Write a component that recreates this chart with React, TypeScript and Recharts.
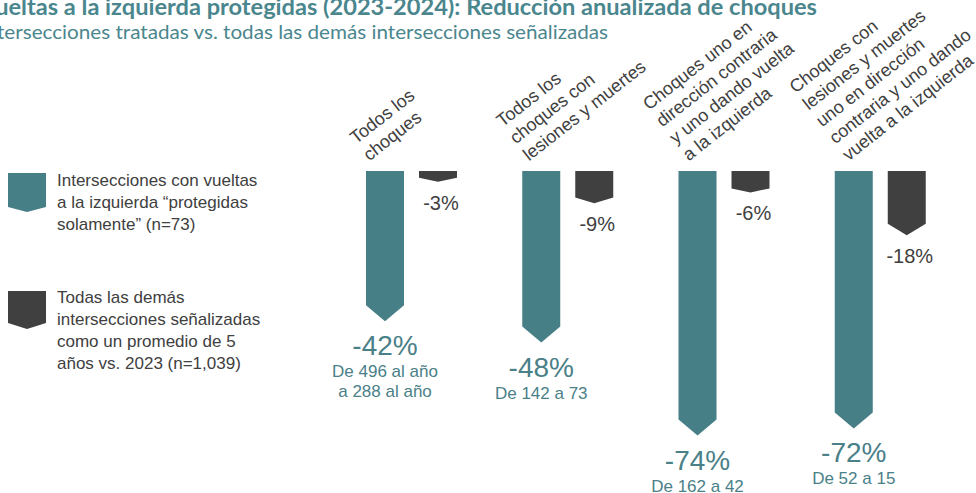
import React from 'react';
import { BarChart, Bar, XAxis, YAxis, LabelList, Legend } from 'recharts';

const categories = [
  'Todos los\nchoques',
  'Todos los\nchoques con\nlesiones y muertes',
  'Choques uno en\ndirección contraria\ny uno dando vuelta\na la izquierda',
  'Choques con\nlesiones y muertes\nuno en dirección\ncontraria y uno dando\nvuelta a la izquierda',
];
const protectedChange = [-42, -48, -74, -72];
const otherChange = [-3, -9, -6, -18];
const protectedDetail = ['De 496 al año\na 288 al año', 'De 142 a 73', 'De 162 a 42', 'De 52 a 15'];
const seriesNames = [
  'Intersecciones con vueltas\na la izquierda “protegidas\nsolamente” (n=73)',
  'Todas las demás\nintersecciones señalizadas\ncomo un promedio de 5\naños vs. 2023 (n=1,039)',
];
const titleText = 'Vueltas a la izquierda protegidas (2023-2024): Reducción anualizada de choques';
const subtitleText = 'Intersecciones tratadas vs. todas las demás intersecciones señalizadas';
const yDomain: [number, number] = [-80, 0];

const data = categories.map((c, i) => ({
  category: c,
  protegidas: protectedChange[i],
  demas: otherChange[i],
  detalle: protectedDetail[i],
}));

const TEAL = '#477F87';
const TEAL_TEXT = '#4A8088';
const DARK = '#404040';
const TEXT_GRAY = '#404040';
const FONT = '"Liberation Sans", Arial, sans-serif';

const Chevron = (props: any) => {
  const { x, y, width, height, fill } = props;
  const top = Math.min(y, y + height);
  const bottom = Math.max(y, y + height);
  const h = bottom - top;
  const d = Math.min(16, Math.max(4, h * 0.18));
  const pts = `${x},${top} ${x + width},${top} ${x + width},${bottom - d} ${x + width / 2},${bottom} ${x},${bottom - d}`;
  return <polygon points={pts} fill={fill} />;
};

const CategoryTick = (props: any) => {
  const { x, y, payload } = props;
  const lines = String(payload.value).split('\n');
  const n = lines.length;
  const dx = -42 + 3.5 * (n - 2);
  return (
    <g transform={`translate(${x + dx},${y - 9.5}) rotate(-38)`}>
      <text fontFamily={FONT} fontSize={18} fill={TEXT_GRAY} textAnchor="start">
        {lines.map((l, i) => (
          <tspan key={i} x={0} y={(i - (n - 1)) * 21.5}>
            {l}
          </tspan>
        ))}
      </text>
    </g>
  );
};

const barBottom = (p: any) => Math.max(Number(p.y), Number(p.y) + Number(p.height));

const TealPct = (p: any) => (
  <text x={p.x + p.width / 2} y={barBottom(p) + 34} textAnchor="middle" fontFamily={FONT} fontSize={28} fill={TEAL_TEXT}>
    {`${p.value}%`}
  </text>
);

const TealDetail = (p: any) => {
  const lines = String(p.value).split('\n');
  const b = barBottom(p);
  return (
    <text textAnchor="middle" fontFamily={FONT} fontSize={17} fill={TEAL_TEXT}>
      {lines.map((l, i) => (
        <tspan key={i} x={p.x + p.width / 2} y={b + 56 + i * 20}>
          {l}
        </tspan>
      ))}
    </text>
  );
};

const DarkPct = (p: any) => (
  <text x={p.x + p.width / 2 + 3} y={barBottom(p) + 28} textAnchor="middle" fontFamily={FONT} fontSize={20} fill={DARK}>
    {`${p.value}%`}
  </text>
);

const LegendIcon = ({ color, body, tip }: { color: string; body: number; tip: number }) => (
  <svg width={38} height={body + tip} style={{ display: 'block' }}>
    <polygon points={`0,0 38,0 38,${body} 19,${body + tip} 0,${body}`} fill={color} />
  </svg>
);

const renderLegend = (props: any) => {
  const payload = props.payload || [];
  return (
    <div style={{ position: 'relative', width: 330, fontFamily: FONT, fontSize: 17, lineHeight: '22px', color: TEXT_GRAY }}>
      {payload.map((entry: any, i: number) => (
        <div key={i} style={{ position: 'relative', marginTop: i === 0 ? 0 : 51, minHeight: 66 }}>
          <div style={{ position: 'absolute', left: 8, top: i === 0 ? 3 : 4 }}>
            <LegendIcon color={entry.color} body={i === 0 ? 34 : 32} tip={i === 0 ? 5 : 6} />
          </div>
          <div style={{ marginLeft: 57, whiteSpace: 'pre-line', textAlign: 'left' }}>{entry.value}</div>
        </div>
      ))}
    </div>
  );
};

export default function App() {
  return (
    <div style={{ position: 'absolute', left: 0, top: 0, width: 976, height: 493, background: '#fff', overflow: 'hidden' }}>
      <BarChart
        width={976}
        height={493}
        data={data}
        margin={{ top: 141, right: 18, bottom: 36, left: 333 }}
        barSize={38}
        barGap={15}
      >
        <XAxis
          dataKey="category"
          orientation="top"
          height={30}
          axisLine={false}
          tickLine={false}
          tickSize={0}
          tickMargin={0}
          interval={0}
          tick={<CategoryTick />}
        />
        <YAxis hide domain={yDomain} />
        <Legend
          layout="vertical"
          align="center"
          verticalAlign="middle"
          wrapperStyle={{ left: 0, top: 170, width: 330 }}
          content={renderLegend}
        />
        <Bar dataKey="protegidas" name={seriesNames[0]} fill={TEAL} shape={<Chevron />} isAnimationActive={false}>
          <LabelList dataKey="protegidas" content={<TealPct />} />
          <LabelList dataKey="detalle" content={<TealDetail />} />
        </Bar>
        <Bar dataKey="demas" name={seriesNames[1]} fill={DARK} shape={<Chevron />} isAnimationActive={false}>
          <LabelList dataKey="demas" content={<DarkPct />} />
        </Bar>
      </BarChart>
      <svg width={976} height={60} style={{ position: 'absolute', left: 0, top: 0, pointerEvents: 'none' }}>
        <text
          x={-20}
          y={15}
          fontFamily="Lato, 'Open Sans', sans-serif"
          fontWeight="bold"
          fontSize={23}
          fill="#4A868E"
          textLength={837}
          lengthAdjust="spacingAndGlyphs"
        >
          {titleText}
        </text>
        <text
          x={-20}
          y={39}
          fontFamily="Lato, 'Open Sans', sans-serif"
          fontSize={19}
          fill="#4A868E"
          textLength={628}
          lengthAdjust="spacingAndGlyphs"
        >
          {subtitleText}
        </text>
      </svg>
    </div>
  );
}
